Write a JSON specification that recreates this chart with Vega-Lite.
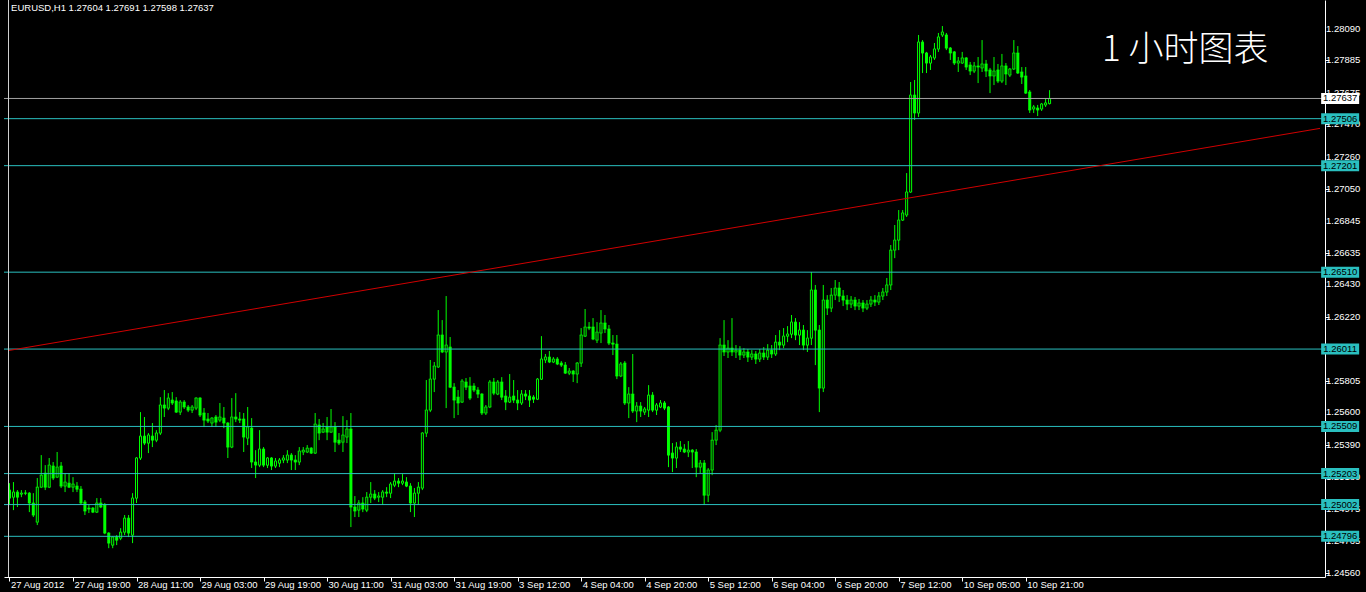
{
"$schema":"https://vega.github.io/schema/vega-lite/v6.json",
"width":1321,"height":577,"autosize":"none",
"padding":{"left":4,"top":0,"right":41,"bottom":15},
"background":"black",
"config":{"view":{"stroke":null},"axis":{"labelOverlap":false,"grid":false}},
"datasets":{
"bars":[
{"i":0,"o":1.25096,"h":1.25141,"l":1.24999,"c":1.25044},
{"i":1,"o":1.25050,"h":1.25148,"l":1.24966,"c":1.25083},
{"i":2,"o":1.25083,"h":1.25096,"l":1.24986,"c":1.25050},
{"i":3,"o":1.25070,"h":1.25096,"l":1.25050,"c":1.25076},
{"i":4,"o":1.25076,"h":1.25096,"l":1.25063,"c":1.25076},
{"i":5,"o":1.25076,"h":1.25083,"l":1.24953,"c":1.25012},
{"i":6,"o":1.25012,"h":1.25076,"l":1.24921,"c":1.24934},
{"i":7,"o":1.24888,"h":1.25174,"l":1.24869,"c":1.25115},
{"i":8,"o":1.25115,"h":1.25323,"l":1.25109,"c":1.25193},
{"i":9,"o":1.25206,"h":1.25258,"l":1.25096,"c":1.25115},
{"i":10,"o":1.25115,"h":1.25304,"l":1.25109,"c":1.25258},
{"i":11,"o":1.25252,"h":1.25278,"l":1.25161,"c":1.25174},
{"i":12,"o":1.25180,"h":1.25343,"l":1.25174,"c":1.25245},
{"i":13,"o":1.25252,"h":1.25278,"l":1.25109,"c":1.25122},
{"i":14,"o":1.25122,"h":1.25206,"l":1.25083,"c":1.25148},
{"i":15,"o":1.25141,"h":1.25206,"l":1.25109,"c":1.25115},
{"i":16,"o":1.25115,"h":1.25180,"l":1.25083,"c":1.25135},
{"i":17,"o":1.25122,"h":1.25148,"l":1.25083,"c":1.25102},
{"i":18,"o":1.25102,"h":1.25122,"l":1.25005,"c":1.25012},
{"i":19,"o":1.25018,"h":1.25031,"l":1.24934,"c":1.24960},
{"i":20,"o":1.24979,"h":1.24999,"l":1.24947,"c":1.24973},
{"i":21,"o":1.24979,"h":1.24986,"l":1.24947,"c":1.24953},
{"i":22,"o":1.24953,"h":1.25044,"l":1.24947,"c":1.25012},
{"i":23,"o":1.25012,"h":1.25044,"l":1.24979,"c":1.24986},
{"i":24,"o":1.24999,"h":1.25012,"l":1.24810,"c":1.24817},
{"i":25,"o":1.24817,"h":1.24823,"l":1.24719,"c":1.24752},
{"i":26,"o":1.24739,"h":1.24797,"l":1.24719,"c":1.24791},
{"i":27,"o":1.24791,"h":1.24804,"l":1.24739,"c":1.24771},
{"i":28,"o":1.24784,"h":1.24849,"l":1.24771,"c":1.24823},
{"i":29,"o":1.24823,"h":1.24934,"l":1.24804,"c":1.24914},
{"i":30,"o":1.24914,"h":1.24934,"l":1.24791,"c":1.24817},
{"i":31,"o":1.24804,"h":1.25076,"l":1.24752,"c":1.25044},
{"i":32,"o":1.25044,"h":1.25310,"l":1.25012,"c":1.25304},
{"i":33,"o":1.25304,"h":1.25602,"l":1.25291,"c":1.25446},
{"i":34,"o":1.25446,"h":1.25570,"l":1.25388,"c":1.25401},
{"i":35,"o":1.25401,"h":1.25466,"l":1.25336,"c":1.25453},
{"i":36,"o":1.25446,"h":1.25531,"l":1.25375,"c":1.25420},
{"i":37,"o":1.25420,"h":1.25485,"l":1.25407,"c":1.25466},
{"i":38,"o":1.25466,"h":1.25699,"l":1.25453,"c":1.25648},
{"i":39,"o":1.25648,"h":1.25745,"l":1.25570,"c":1.25628},
{"i":40,"o":1.25628,"h":1.25725,"l":1.25615,"c":1.25693},
{"i":41,"o":1.25680,"h":1.25732,"l":1.25648,"c":1.25661},
{"i":42,"o":1.25674,"h":1.25699,"l":1.25596,"c":1.25602},
{"i":43,"o":1.25602,"h":1.25680,"l":1.25583,"c":1.25667},
{"i":44,"o":1.25667,"h":1.25680,"l":1.25622,"c":1.25635},
{"i":45,"o":1.25635,"h":1.25648,"l":1.25602,"c":1.25615},
{"i":46,"o":1.25615,"h":1.25648,"l":1.25596,"c":1.25635},
{"i":47,"o":1.25628,"h":1.25699,"l":1.25615,"c":1.25693},
{"i":48,"o":1.25693,"h":1.25699,"l":1.25570,"c":1.25583},
{"i":49,"o":1.25596,"h":1.25628,"l":1.25505,"c":1.25550},
{"i":50,"o":1.25557,"h":1.25596,"l":1.25531,"c":1.25544},
{"i":51,"o":1.25531,"h":1.25570,"l":1.25505,"c":1.25563},
{"i":52,"o":1.25570,"h":1.25583,"l":1.25505,"c":1.25537},
{"i":53,"o":1.25550,"h":1.25661,"l":1.25537,"c":1.25570},
{"i":54,"o":1.25563,"h":1.25635,"l":1.25498,"c":1.25531},
{"i":55,"o":1.25531,"h":1.25537,"l":1.25304,"c":1.25375},
{"i":56,"o":1.25375,"h":1.25693,"l":1.25368,"c":1.25570},
{"i":57,"o":1.25570,"h":1.25725,"l":1.25537,"c":1.25557},
{"i":58,"o":1.25557,"h":1.25602,"l":1.25531,"c":1.25550},
{"i":59,"o":1.25557,"h":1.25596,"l":1.25343,"c":1.25440},
{"i":60,"o":1.25433,"h":1.25635,"l":1.25388,"c":1.25505},
{"i":61,"o":1.25498,"h":1.25563,"l":1.25239,"c":1.25278},
{"i":62,"o":1.25278,"h":1.25355,"l":1.25174,"c":1.25258},
{"i":63,"o":1.25258,"h":1.25485,"l":1.25245,"c":1.25362},
{"i":64,"o":1.25362,"h":1.25375,"l":1.25245,"c":1.25258},
{"i":65,"o":1.25258,"h":1.25310,"l":1.25239,"c":1.25304},
{"i":66,"o":1.25304,"h":1.25310,"l":1.25226,"c":1.25252},
{"i":67,"o":1.25252,"h":1.25304,"l":1.25239,"c":1.25284},
{"i":68,"o":1.25271,"h":1.25304,"l":1.25245,"c":1.25291},
{"i":69,"o":1.25291,"h":1.25323,"l":1.25271,"c":1.25304},
{"i":70,"o":1.25291,"h":1.25355,"l":1.25271,"c":1.25323},
{"i":71,"o":1.25323,"h":1.25336,"l":1.25226,"c":1.25291},
{"i":72,"o":1.25291,"h":1.25323,"l":1.25226,"c":1.25278},
{"i":73,"o":1.25278,"h":1.25375,"l":1.25258,"c":1.25349},
{"i":74,"o":1.25343,"h":1.25375,"l":1.25323,"c":1.25355},
{"i":75,"o":1.25343,"h":1.25388,"l":1.25336,"c":1.25368},
{"i":76,"o":1.25368,"h":1.25375,"l":1.25330,"c":1.25336},
{"i":77,"o":1.25336,"h":1.25596,"l":1.25330,"c":1.25524},
{"i":78,"o":1.25518,"h":1.25557,"l":1.25420,"c":1.25466},
{"i":79,"o":1.25472,"h":1.25531,"l":1.25466,"c":1.25492},
{"i":80,"o":1.25505,"h":1.25570,"l":1.25420,"c":1.25472},
{"i":81,"o":1.25472,"h":1.25622,"l":1.25466,"c":1.25505},
{"i":82,"o":1.25505,"h":1.25537,"l":1.25343,"c":1.25407},
{"i":83,"o":1.25420,"h":1.25466,"l":1.25388,"c":1.25401},
{"i":84,"o":1.25407,"h":1.25576,"l":1.25343,"c":1.25453},
{"i":85,"o":1.25440,"h":1.25550,"l":1.25401,"c":1.25492},
{"i":86,"o":1.25492,"h":1.25596,"l":1.24856,"c":1.24986},
{"i":87,"o":1.24986,"h":1.25057,"l":1.24921,"c":1.24960},
{"i":88,"o":1.24966,"h":1.25031,"l":1.24921,"c":1.25012},
{"i":89,"o":1.25012,"h":1.25050,"l":1.24953,"c":1.24973},
{"i":90,"o":1.24966,"h":1.25083,"l":1.24953,"c":1.25050},
{"i":91,"o":1.25050,"h":1.25148,"l":1.25012,"c":1.25070},
{"i":92,"o":1.25070,"h":1.25096,"l":1.25031,"c":1.25044},
{"i":93,"o":1.25050,"h":1.25083,"l":1.25018,"c":1.25057},
{"i":94,"o":1.25050,"h":1.25096,"l":1.24999,"c":1.25083},
{"i":95,"o":1.25083,"h":1.25115,"l":1.25050,"c":1.25076},
{"i":96,"o":1.25076,"h":1.25148,"l":1.25044,"c":1.25135},
{"i":97,"o":1.25128,"h":1.25206,"l":1.25115,"c":1.25154},
{"i":98,"o":1.25154,"h":1.25174,"l":1.25115,"c":1.25141},
{"i":99,"o":1.25141,"h":1.25200,"l":1.25128,"c":1.25154},
{"i":100,"o":1.25148,"h":1.25180,"l":1.25115,"c":1.25122},
{"i":101,"o":1.25122,"h":1.25141,"l":1.24953,"c":1.25012},
{"i":102,"o":1.25012,"h":1.25109,"l":1.24921,"c":1.25076},
{"i":103,"o":1.25076,"h":1.25148,"l":1.24999,"c":1.25115},
{"i":104,"o":1.25109,"h":1.25472,"l":1.25096,"c":1.25466},
{"i":105,"o":1.25466,"h":1.25810,"l":1.25440,"c":1.25615},
{"i":106,"o":1.25615,"h":1.25940,"l":1.25602,"c":1.25816},
{"i":107,"o":1.25816,"h":1.25927,"l":1.25732,"c":1.25901},
{"i":108,"o":1.25895,"h":1.26264,"l":1.25888,"c":1.26102},
{"i":109,"o":1.26102,"h":1.26199,"l":1.25985,"c":1.25992},
{"i":110,"o":1.25992,"h":1.26355,"l":1.25628,"c":1.26037},
{"i":111,"o":1.26024,"h":1.26089,"l":1.25758,"c":1.25764},
{"i":112,"o":1.25764,"h":1.25790,"l":1.25563,"c":1.25680},
{"i":113,"o":1.25699,"h":1.25745,"l":1.25583,"c":1.25661},
{"i":114,"o":1.25667,"h":1.25816,"l":1.25661,"c":1.25803},
{"i":115,"o":1.25797,"h":1.25823,"l":1.25745,"c":1.25764},
{"i":116,"o":1.25771,"h":1.25829,"l":1.25680,"c":1.25693},
{"i":117,"o":1.25771,"h":1.25790,"l":1.25732,"c":1.25745},
{"i":118,"o":1.25745,"h":1.25764,"l":1.25693,"c":1.25719},
{"i":119,"o":1.25719,"h":1.25725,"l":1.25583,"c":1.25596},
{"i":120,"o":1.25596,"h":1.25648,"l":1.25583,"c":1.25635},
{"i":121,"o":1.25635,"h":1.25810,"l":1.25628,"c":1.25797},
{"i":122,"o":1.25797,"h":1.25823,"l":1.25712,"c":1.25725},
{"i":123,"o":1.25719,"h":1.25810,"l":1.25712,"c":1.25797},
{"i":124,"o":1.25797,"h":1.25829,"l":1.25680,"c":1.25699},
{"i":125,"o":1.25706,"h":1.25745,"l":1.25615,"c":1.25667},
{"i":126,"o":1.25667,"h":1.25849,"l":1.25661,"c":1.25699},
{"i":127,"o":1.25706,"h":1.25810,"l":1.25661,"c":1.25680},
{"i":128,"o":1.25680,"h":1.25745,"l":1.25615,"c":1.25661},
{"i":129,"o":1.25661,"h":1.25745,"l":1.25648,"c":1.25719},
{"i":130,"o":1.25719,"h":1.25745,"l":1.25680,"c":1.25706},
{"i":131,"o":1.25706,"h":1.25745,"l":1.25635,"c":1.25680},
{"i":132,"o":1.25699,"h":1.25712,"l":1.25661,"c":1.25686},
{"i":133,"o":1.25686,"h":1.25823,"l":1.25680,"c":1.25816},
{"i":134,"o":1.25816,"h":1.26095,"l":1.25810,"c":1.25946},
{"i":135,"o":1.25940,"h":1.25979,"l":1.25920,"c":1.25959},
{"i":136,"o":1.25959,"h":1.25998,"l":1.25920,"c":1.25927},
{"i":137,"o":1.25927,"h":1.25959,"l":1.25920,"c":1.25946},
{"i":138,"o":1.25946,"h":1.25959,"l":1.25907,"c":1.25914},
{"i":139,"o":1.25920,"h":1.25933,"l":1.25895,"c":1.25907},
{"i":140,"o":1.25907,"h":1.25927,"l":1.25849,"c":1.25855},
{"i":141,"o":1.25855,"h":1.25888,"l":1.25842,"c":1.25868},
{"i":142,"o":1.25868,"h":1.25875,"l":1.25797,"c":1.25849},
{"i":143,"o":1.25849,"h":1.25927,"l":1.25790,"c":1.25920},
{"i":144,"o":1.25920,"h":1.26147,"l":1.25895,"c":1.26102},
{"i":145,"o":1.26095,"h":1.26271,"l":1.26089,"c":1.26154},
{"i":146,"o":1.26154,"h":1.26186,"l":1.26134,"c":1.26147},
{"i":147,"o":1.26154,"h":1.26212,"l":1.26069,"c":1.26076},
{"i":148,"o":1.26069,"h":1.26186,"l":1.26050,"c":1.26121},
{"i":149,"o":1.26115,"h":1.26264,"l":1.26050,"c":1.26180},
{"i":150,"o":1.26180,"h":1.26232,"l":1.26115,"c":1.26141},
{"i":151,"o":1.26141,"h":1.26167,"l":1.26037,"c":1.26050},
{"i":152,"o":1.26050,"h":1.26102,"l":1.25972,"c":1.26043},
{"i":153,"o":1.26043,"h":1.26102,"l":1.25816,"c":1.25836},
{"i":154,"o":1.25836,"h":1.25927,"l":1.25829,"c":1.25914},
{"i":155,"o":1.25920,"h":1.25933,"l":1.25648,"c":1.25661},
{"i":156,"o":1.25661,"h":1.25764,"l":1.25563,"c":1.25719},
{"i":157,"o":1.25719,"h":1.25979,"l":1.25596,"c":1.25609},
{"i":158,"o":1.25609,"h":1.25667,"l":1.25537,"c":1.25641},
{"i":159,"o":1.25641,"h":1.25667,"l":1.25570,"c":1.25609},
{"i":160,"o":1.25602,"h":1.25635,"l":1.25583,"c":1.25622},
{"i":161,"o":1.25615,"h":1.25777,"l":1.25570,"c":1.25712},
{"i":162,"o":1.25712,"h":1.25732,"l":1.25602,"c":1.25615},
{"i":163,"o":1.25615,"h":1.25661,"l":1.25583,"c":1.25648},
{"i":164,"o":1.25635,"h":1.25680,"l":1.25628,"c":1.25661},
{"i":165,"o":1.25661,"h":1.25674,"l":1.25615,"c":1.25628},
{"i":166,"o":1.25635,"h":1.25641,"l":1.25245,"c":1.25323},
{"i":167,"o":1.25336,"h":1.25401,"l":1.25213,"c":1.25304},
{"i":168,"o":1.25304,"h":1.25407,"l":1.25239,"c":1.25375},
{"i":169,"o":1.25375,"h":1.25414,"l":1.25343,"c":1.25362},
{"i":170,"o":1.25362,"h":1.25394,"l":1.25336,"c":1.25343},
{"i":171,"o":1.25343,"h":1.25414,"l":1.25310,"c":1.25355},
{"i":172,"o":1.25355,"h":1.25362,"l":1.25239,"c":1.25343},
{"i":173,"o":1.25343,"h":1.25362,"l":1.25180,"c":1.25245},
{"i":174,"o":1.25245,"h":1.25291,"l":1.25206,"c":1.25271},
{"i":175,"o":1.25271,"h":1.25291,"l":1.24999,"c":1.25063},
{"i":176,"o":1.25063,"h":1.25239,"l":1.25018,"c":1.25226},
{"i":177,"o":1.25226,"h":1.25472,"l":1.25193,"c":1.25420},
{"i":178,"o":1.25420,"h":1.25518,"l":1.25388,"c":1.25485},
{"i":179,"o":1.25485,"h":1.26082,"l":1.25472,"c":1.26037},
{"i":180,"o":1.26037,"h":1.26199,"l":1.25966,"c":1.25992},
{"i":181,"o":1.25992,"h":1.26069,"l":1.25953,"c":1.26017},
{"i":182,"o":1.26017,"h":1.26212,"l":1.25966,"c":1.25992},
{"i":183,"o":1.25992,"h":1.26037,"l":1.25953,"c":1.26004},
{"i":184,"o":1.26004,"h":1.26030,"l":1.25940,"c":1.25972},
{"i":185,"o":1.25972,"h":1.26017,"l":1.25953,"c":1.25992},
{"i":186,"o":1.25992,"h":1.26011,"l":1.25927,"c":1.25959},
{"i":187,"o":1.25959,"h":1.26004,"l":1.25940,"c":1.25979},
{"i":188,"o":1.25979,"h":1.25998,"l":1.25914,"c":1.25946},
{"i":189,"o":1.25946,"h":1.26011,"l":1.25927,"c":1.25985},
{"i":190,"o":1.25985,"h":1.26024,"l":1.25940,"c":1.25959},
{"i":191,"o":1.25959,"h":1.26043,"l":1.25940,"c":1.26004},
{"i":192,"o":1.26004,"h":1.26037,"l":1.25953,"c":1.25979},
{"i":193,"o":1.25979,"h":1.26102,"l":1.25966,"c":1.26056},
{"i":194,"o":1.26056,"h":1.26134,"l":1.26004,"c":1.26037},
{"i":195,"o":1.26037,"h":1.26147,"l":1.26017,"c":1.26095},
{"i":196,"o":1.26095,"h":1.26160,"l":1.26056,"c":1.26108},
{"i":197,"o":1.26108,"h":1.26232,"l":1.26082,"c":1.26186},
{"i":198,"o":1.26186,"h":1.26212,"l":1.26069,"c":1.26102},
{"i":199,"o":1.26102,"h":1.26186,"l":1.26037,"c":1.26134},
{"i":200,"o":1.26134,"h":1.26167,"l":1.26004,"c":1.26037},
{"i":201,"o":1.26037,"h":1.26134,"l":1.25992,"c":1.26082},
{"i":202,"o":1.26082,"h":1.26511,"l":1.26037,"c":1.26394},
{"i":203,"o":1.26394,"h":1.26427,"l":1.25907,"c":1.26134},
{"i":204,"o":1.26134,"h":1.26167,"l":1.25602,"c":1.25758},
{"i":205,"o":1.25758,"h":1.26427,"l":1.25732,"c":1.26329},
{"i":206,"o":1.26329,"h":1.26361,"l":1.26232,"c":1.26277},
{"i":207,"o":1.26277,"h":1.26407,"l":1.26251,"c":1.26361},
{"i":208,"o":1.26361,"h":1.26459,"l":1.26329,"c":1.26407},
{"i":209,"o":1.26407,"h":1.26446,"l":1.26316,"c":1.26355},
{"i":210,"o":1.26355,"h":1.26394,"l":1.26290,"c":1.26329},
{"i":211,"o":1.26329,"h":1.26361,"l":1.26264,"c":1.26303},
{"i":212,"o":1.26303,"h":1.26355,"l":1.26277,"c":1.26329},
{"i":213,"o":1.26329,"h":1.26349,"l":1.26264,"c":1.26290},
{"i":214,"o":1.26290,"h":1.26336,"l":1.26264,"c":1.26310},
{"i":215,"o":1.26310,"h":1.26329,"l":1.26251,"c":1.26277},
{"i":216,"o":1.26277,"h":1.26329,"l":1.26264,"c":1.26303},
{"i":217,"o":1.26303,"h":1.26355,"l":1.26284,"c":1.26329},
{"i":218,"o":1.26329,"h":1.26361,"l":1.26290,"c":1.26316},
{"i":219,"o":1.26316,"h":1.26381,"l":1.26297,"c":1.26355},
{"i":220,"o":1.26355,"h":1.26407,"l":1.26329,"c":1.26381},
{"i":221,"o":1.26381,"h":1.26472,"l":1.26355,"c":1.26427},
{"i":222,"o":1.26427,"h":1.26686,"l":1.26394,"c":1.26653},
{"i":223,"o":1.26653,"h":1.26816,"l":1.26601,"c":1.26718},
{"i":224,"o":1.26718,"h":1.26913,"l":1.26653,"c":1.26848},
{"i":225,"o":1.26848,"h":1.26913,"l":1.26842,"c":1.26894},
{"i":226,"o":1.26881,"h":1.27153,"l":1.26868,"c":1.27030},
{"i":227,"o":1.27030,"h":1.27744,"l":1.27024,"c":1.27659},
{"i":228,"o":1.27659,"h":1.27757,"l":1.27497,"c":1.27543},
{"i":229,"o":1.27543,"h":1.28049,"l":1.27517,"c":1.28003},
{"i":230,"o":1.28003,"h":1.28016,"l":1.27802,"c":1.27932},
{"i":231,"o":1.27932,"h":1.27939,"l":1.27802,"c":1.27867},
{"i":232,"o":1.27867,"h":1.27919,"l":1.27822,"c":1.27906},
{"i":233,"o":1.27900,"h":1.27997,"l":1.27887,"c":1.27958},
{"i":234,"o":1.27958,"h":1.28062,"l":1.27939,"c":1.28036},
{"i":235,"o":1.28049,"h":1.28107,"l":1.28036,"c":1.28068},
{"i":236,"o":1.28049,"h":1.28062,"l":1.27951,"c":1.27964},
{"i":237,"o":1.27964,"h":1.27971,"l":1.27887,"c":1.27932},
{"i":238,"o":1.27939,"h":1.27945,"l":1.27854,"c":1.27867},
{"i":239,"o":1.27867,"h":1.27906,"l":1.27809,"c":1.27880},
{"i":240,"o":1.27867,"h":1.27939,"l":1.27861,"c":1.27900},
{"i":241,"o":1.27900,"h":1.27906,"l":1.27822,"c":1.27841},
{"i":242,"o":1.27854,"h":1.27874,"l":1.27789,"c":1.27815},
{"i":243,"o":1.27815,"h":1.27874,"l":1.27802,"c":1.27848},
{"i":244,"o":1.27848,"h":1.27906,"l":1.27737,"c":1.27841},
{"i":245,"o":1.27835,"h":1.28016,"l":1.27809,"c":1.27861},
{"i":246,"o":1.27861,"h":1.27887,"l":1.27776,"c":1.27815},
{"i":247,"o":1.27822,"h":1.27835,"l":1.27672,"c":1.27783},
{"i":248,"o":1.27783,"h":1.27906,"l":1.27724,"c":1.27815},
{"i":249,"o":1.27822,"h":1.27861,"l":1.27737,"c":1.27750},
{"i":250,"o":1.27750,"h":1.27926,"l":1.27737,"c":1.27848},
{"i":251,"o":1.27848,"h":1.27867,"l":1.27724,"c":1.27796},
{"i":252,"o":1.27789,"h":1.27835,"l":1.27776,"c":1.27828},
{"i":253,"o":1.27828,"h":1.28016,"l":1.27822,"c":1.27932},
{"i":254,"o":1.27932,"h":1.27977,"l":1.27796,"c":1.27802},
{"i":255,"o":1.27809,"h":1.27841,"l":1.27731,"c":1.27776},
{"i":256,"o":1.27783,"h":1.27841,"l":1.27666,"c":1.27672},
{"i":257,"o":1.27679,"h":1.27692,"l":1.27543,"c":1.27562},
{"i":258,"o":1.27569,"h":1.27595,"l":1.27543,"c":1.27582},
{"i":259,"o":1.27575,"h":1.27595,"l":1.27523,"c":1.27562},
{"i":260,"o":1.27569,"h":1.27608,"l":1.27556,"c":1.27601},
{"i":261,"o":1.27595,"h":1.27640,"l":1.27582,"c":1.27608},
{"i":262,"o":1.27604,"h":1.27691,"l":1.27598,"c":1.27637}
],
"levels":[{"p":1.27506},{"p":1.27201},{"p":1.26510},{"p":1.26011},{"p":1.25509},{"p":1.25203},{"p":1.25002},{"p":1.24796}],
"yticks":[{"p":1.2809,"t":"1.28090"},{"p":1.27885,"t":"1.27885"},{"p":1.27675,"t":"1.27675"},{"p":1.2747,"t":"1.27470"},{"p":1.2726,"t":"1.27260"},{"p":1.2705,"t":"1.27050"},{"p":1.26845,"t":"1.26845"},{"p":1.26635,"t":"1.26635"},{"p":1.2643,"t":"1.26430"},{"p":1.2622,"t":"1.26220"},{"p":1.25805,"t":"1.25805"},{"p":1.256,"t":"1.25600"},{"p":1.2539,"t":"1.25390"},{"p":1.2518,"t":"1.25180"},{"p":1.24975,"t":"1.24975"},{"p":1.24765,"t":"1.24765"},{"p":1.2456,"t":"1.24560"}],
"tags":[
{"p":1.27637,"t":"1.27637","k":"cur"},
{"p":1.27506,"t":"1.27506","k":"lvl"},
{"p":1.27201,"t":"1.27201","k":"lvl"},
{"p":1.26510,"t":"1.26510","k":"lvl"},
{"p":1.26011,"t":"1.26011","k":"lvl"},
{"p":1.25509,"t":"1.25509","k":"lvl"},
{"p":1.25203,"t":"1.25203","k":"lvl"},
{"p":1.25002,"t":"1.25002","k":"lvl"},
{"p":1.24796,"t":"1.24796","k":"lvl"}
],
"trend":[{"i":-0.125,"p":1.26002},{"i":330.125,"p":1.27443}]
},
"layer":[
{"data":{"name":"bars"},"mark":{"type":"rule","color":"#00FF00","strokeWidth":1},
 "encoding":{
  "x":{"field":"i","type":"quantitative","scale":{"domain":[-0.125,330.125],"nice":false,"zero":false},
   "axis":{"orient":"bottom","values":[0,16,32,48,64,80,96,112,128,144,160,176,192,208,224,240,256],
    "labelExpr":"['27 Aug 2012','27 Aug 19:00','28 Aug 11:00','29 Aug 03:00','29 Aug 19:00','30 Aug 11:00','31 Aug 03:00','31 Aug 19:00','3 Sep 12:00','4 Sep 04:00','4 Sep 20:00','5 Sep 12:00','6 Sep 04:00','6 Sep 20:00','7 Sep 12:00','10 Sep 05:00','10 Sep 21:00'][round(datum.value/16)]",
    "labelAlign":"left","labelBaseline":"top","labelPadding":-2,"labelOffset":1,"labelColor":"white","labelFont":"Liberation Sans","labelFontSize":9.5,
    "tickColor":"white","tickSize":4,"domainColor":"white","grid":false,"title":null,"labelOverlap":false,"labelBound":false,"labelFlush":false}},
  "y":{"field":"l","type":"quantitative","scale":{"domain":[1.24532,1.28276],"nice":false,"zero":false},
   "axis":{"orient":"right","values":[1.2809,1.27885,1.27675,1.2747,1.2726,1.2705,1.26845,1.26635,1.2643,1.2622,1.2601,1.25805,1.256,1.2539,1.2518,1.24975,1.24765,1.2456],
    "labels":false,"tickColor":"white","tickSize":4,"domainColor":"white","grid":false,"title":null}},
  "y2":{"field":"h"}}},
{"data":{"name":"bars"},"mark":{"type":"bar","width":3,"color":"#00FF00"},
 "encoding":{"x":{"field":"i","type":"quantitative"},"y":{"field":"o","type":"quantitative"},"y2":{"field":"c"}}},
{"data":{"name":"bars"},"mark":{"type":"bar","width":1},
 "encoding":{"x":{"field":"i","type":"quantitative"},"y":{"field":"o","type":"quantitative"},"y2":{"field":"c"},
  "color":{"condition":{"test":"datum.c >= datum.o","value":"#000000"},"value":"#00FF00"}}},
{"data":{"name":"bars"},"mark":{"type":"tick","orient":"horizontal","size":3,"thickness":1,"color":"#00FF00"},
 "encoding":{"x":{"field":"i","type":"quantitative"},"y":{"field":"o","type":"quantitative"}}},
{"data":{"name":"bars"},"mark":{"type":"tick","orient":"horizontal","size":3,"thickness":1,"color":"#00FF00"},
 "encoding":{"x":{"field":"i","type":"quantitative"},"y":{"field":"c","type":"quantitative"}}},
{"data":{"name":"levels"},"mark":{"type":"rule","color":"#2ABFBF","strokeWidth":1},
 "encoding":{"y":{"field":"p","type":"quantitative"}}},
{"data":{"values":[{"p":1.27637}]},"mark":{"type":"rule","color":"#A0A0A0","strokeWidth":1},
 "encoding":{"y":{"field":"p","type":"quantitative"}}},
{"data":{"name":"trend"},"mark":{"type":"line","color":"#D00000","strokeWidth":1},
 "encoding":{"x":{"field":"i","type":"quantitative"},"y":{"field":"p","type":"quantitative"}}},
{"data":{"values":[{"i":-0.25}]},"mark":{"type":"rule","color":"#D0D0D0","strokeWidth":1},
 "encoding":{"x":{"field":"i","type":"quantitative"}}},
{"data":{"name":"yticks"},"mark":{"type":"text","align":"left","baseline":"middle","font":"Liberation Sans","fontSize":9.5,"color":"#FFFFFF"},
 "encoding":{"x":{"datum":331.65,"type":"quantitative"},"y":{"field":"p","type":"quantitative"},"text":{"field":"t"}}},
{"data":{"name":"tags"},"mark":{"type":"point","filled":true,"opacity":1,"strokeWidth":0,"shape":"M-1,-0.29L1,-0.29L1,0.29L-1,0.29Z","size":1444},
 "encoding":{"x":{"datum":335.2,"type":"quantitative"},"y":{"field":"p","type":"quantitative"},
  "color":{"condition":{"test":"datum.k == 'cur'","value":"#FFFFFF"},"value":"#2ABFBF"}}},
{"data":{"name":"tags"},"mark":{"type":"text","align":"center","baseline":"middle","font":"Liberation Sans","fontSize":9.5,"color":"#000000"},
 "encoding":{"x":{"datum":335.2,"type":"quantitative"},"y":{"field":"p","type":"quantitative"},"text":{"field":"t"}}},
{"data":{"values":[{"t":"EURUSD,H1  1.27604 1.27691 1.27598 1.27637","i":0.4,"p":1.28224}]},
 "mark":{"type":"text","align":"left","baseline":"middle","font":"Liberation Sans","fontSize":9.5,"color":"#FFFFFF"},
 "encoding":{"x":{"field":"i","type":"quantitative"},"y":{"field":"p","type":"quantitative"},"text":{"field":"t"}}},
{"data":{"values":[{"t":"1 小时图表","i":275.2,"p":1.27951}]},
 "mark":{"type":"text","align":"left","baseline":"middle","font":"Noto Sans CJK SC","fontSize":35,"fontWeight":300,"color":"#FFFFFF"},
 "encoding":{"x":{"field":"i","type":"quantitative"},"y":{"field":"p","type":"quantitative"},"text":{"field":"t"}}}
]
}
